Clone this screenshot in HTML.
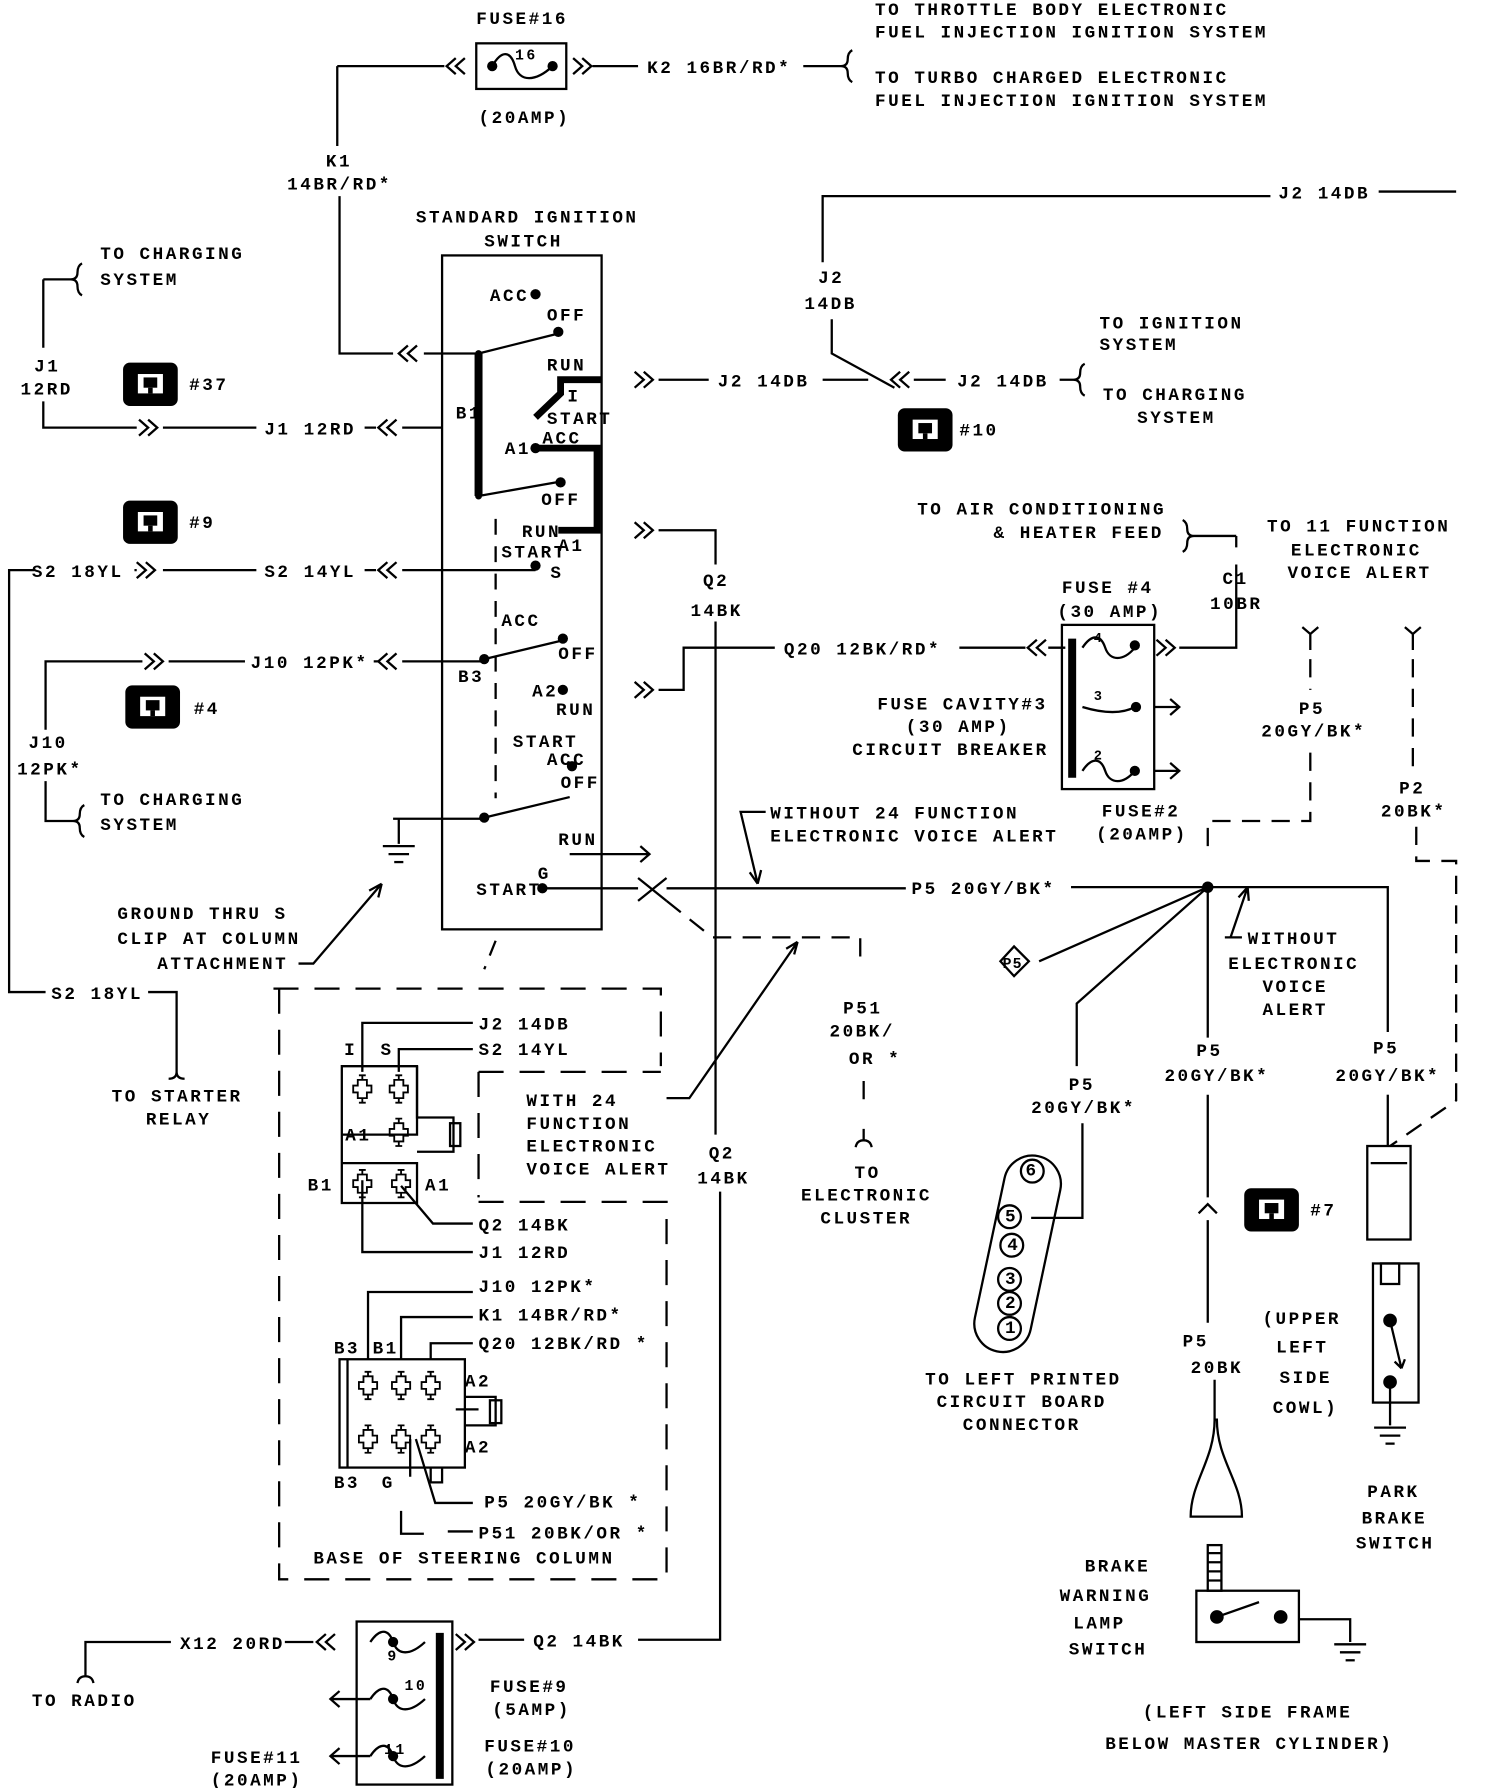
<!DOCTYPE html>
<html><head><meta charset="utf-8"><style>
html,body{margin:0;padding:0;background:#fff;}
svg{display:block}
text{font-family:"Liberation Mono","DejaVu Sans Mono",monospace;font-size:15.5px;font-weight:bold;letter-spacing:2.2px;fill:#000}
</style></head><body>
<svg width="1504" height="1788" viewBox="0 0 1320 1568" preserveAspectRatio="none" xmlns="http://www.w3.org/2000/svg">
<defs>
<path id="rr" d="M0,-7 L8,0 L0,7 M8,-7 L16,0 L8,7" fill="none" stroke="#000" stroke-width="2"/>
<path id="ll" d="M16,-7 L8,0 L16,7 M8,-7 L0,0 L8,7" fill="none" stroke="#000" stroke-width="2"/>
<path id="pin" d="M-3,-12 h6 M0,-12 v4 M-4,-8 h8 v5 h4 v6 h-4 v5 h-8 v-5 h-4 v-6 h4 z M0,8 v4 M-3,12 h6" fill="none" stroke="#000" stroke-width="1.6"/>
<g id="icon"><rect x="0" y="0" width="48" height="38" rx="6" fill="#000"/><rect x="13" y="10" width="22" height="17" fill="#fff"/><rect x="18" y="13" width="12" height="9" fill="#000"/><rect x="22" y="22" width="4" height="5" fill="#000"/></g>
<g id="gnd" stroke="#000" stroke-width="2"><line x1="-14" y1="0" x2="14" y2="0"/><line x1="-9" y1="7" x2="9" y2="7"/><line x1="-4" y1="14" x2="4" y2="14"/></g>
</defs>
<g fill="none" stroke="#000" stroke-width="2">
<rect x="418" y="38" width="79" height="40"/>
<path d="M432,58 C440,44 448,44 452,58 C456,72 470,72 485,58"/>
<path d="M296,58 H390 M296,58 V128 M298,172 V310 H345 M372,310 H420"/>
<path d="M520,58 H560 M705,58 H738 M738,58 q6,0 6,-6 q0,-6 4,-8 M738,58 q6,0 6,6 q0,6 4,8"/>
<rect x="388" y="224" width="140" height="591"/>
<line x1="420" y1="310" x2="420" y2="435" stroke-width="7"/>
<path d="M420,310 L488,293 M420,435 L488,423 M425,578 L492,562 M425,717 L500,699"/>
<path d="M528,333 H492 V345 L470,366" stroke-width="6"/>
<path d="M470,393 H524 V465 H490" stroke-width="6"/>
<path d="M435,455 V700" stroke-dasharray="14,10"/>
<path d="M38,245 H62 M62,245 q6,0 6,-6 q0,-6 4,-8 M62,245 q6,0 6,6 q0,6 4,8 M38,245 V305 M38,352 V375 H120 M143,375 H225 M320,375 H330 M353,375 H388"/>
<path d="M30,500 H8 V870 H40 M120,500 H118 M143,500 H225 M320,500 H330 M353,500 H470"/>
<path d="M40,640 V580 H125 M148,580 H215 M332,580 H328 M353,580 H425"/>
<path d="M40,685 V720 H64 M64,720 q6,0 6,-6 q0,-6 4,-8 M64,720 q6,0 6,6 q0,6 4,8"/>
<path d="M345,718 H425 M350,718 V740"/>
<path d="M262,845 H275 L335,775 M335,775 l-3,12 M335,775 l-11,6"/>
<path d="M130,870 H155 V940 M155,940 q0,6 -7,6 M155,940 q0,6 7,6"/>
<path d="M500,749 H570 M562,742 L570,749 L562,756"/>
<path d="M578,333 H622 M722,333 H762 M730,280 V310 L785,340 M802,333 H830 M930,333 H942 M942,333 q6,0 6,-6 q0,-6 4,-8 M942,333 q6,0 6,6 q0,6 4,8"/>
<path d="M722,230 V172 H1115 M1210,168 H1278"/>
<path d="M578,465 H628 V495 M628,545 V995 M632,1045 V1438 H560 M460,1438 H420"/>
<path d="M578,605 H600 V568 H680 M842,568 H900 M920,568 H935"/>
<rect x="932" y="548" width="81" height="144"/>
<line x1="941" y1="560" x2="941" y2="682" stroke-width="7"/>
<path d="M950,568 C958,556 966,556 970,568 C974,580 986,580 996,568"/>
<path d="M950,620 C970,626 985,626 996,620"/>
<path d="M950,676 C958,664 966,664 970,676 C974,688 986,688 996,676"/>
<path d="M1035,568 H1085 V495 M1085,470 V480 M1085,470 H1048 M1048,470 q-6,0 -6,-6 q0,-6 -4,-8 M1048,470 q-6,0 -6,6 q0,6 -4,8"/>
<path d="M1013,620 H1035 M1027,613 L1035,620 L1027,627 M1013,676 H1035 M1027,669 L1035,676 L1027,683"/>
<path d="M1150,570 V555 M1143,550 L1150,556 L1157,550 M1240,570 V555 M1233,550 L1240,556 L1247,550"/>
<path d="M1150,578 V605 M1150,660 V720 H1060 V742 M1240,578 V680 M1243,725 V755 H1278 V965 L1220,1005" stroke-dasharray="16,10"/>
<path d="M672,712 H650 L665,775 M665,775 l-7,-10 M665,775 l3,-12"/>
<path d="M476,779 H560 M560,770 L585,790 M560,790 L585,770 M585,779 H795 M940,778 H1218 V905"/>
<path d="M585,790 L625,822 H755 V840 M758,948 V968" stroke-dasharray="16,10"/>
<path d="M758,990 V1000 M758,1000 q-6,0 -7,6 M758,1000 q6,0 7,6"/>
<path d="M585,963 H605 L700,826 M700,826 l-3,11 M700,826 l-10,6"/>
<path d="M878,843 L890,830 L903,843 L890,856 Z"/>
<path d="M912,843 L1060,778 M1060,778 L945,880 V935 M950,985 V1068 H905 M1060,778 V910 M1060,960 V1050 M1060,1070 V1160 M1066,1210 V1245"/>
<path d="M1052,1064 L1060,1056 L1068,1064"/>
<path d="M1218,960 V1005"/>
<path d="M1080,822 L1095,778 M1095,778 l-8,9 M1095,778 l1,12"/>
<path d="M1075,822 H1090"/>
<rect x="868" y="1012" width="50" height="175" rx="25" transform="rotate(12 893 1100)"/>
<circle cx="906" cy="1027" r="10"/><circle cx="886" cy="1067" r="10"/><circle cx="888" cy="1092" r="10"/><circle cx="886" cy="1122" r="10"/><circle cx="886" cy="1143" r="10"/><circle cx="886" cy="1165" r="10"/>
<rect x="1200" y="1005" width="38" height="82"/><line x1="1203" y1="1020" x2="1235" y2="1020"/>
<rect x="1205" y="1108" width="40" height="122"/><rect x="1212" y="1108" width="16" height="18"/>
<circle cx="1220" cy="1158" r="5" fill="#000"/><circle cx="1220" cy="1212" r="5" fill="#000"/>
<path d="M1220,1158 L1230,1200 M1230,1200 l-6,-6 M1230,1200 l3,-8 M1220,1212 V1250"/>
<path d="M1066,1245 C1066,1280 1045,1300 1045,1330 H1090 C1090,1300 1068,1280 1068,1245 Z"/>
<rect x="1060" y="1355" width="12" height="40"/>
<path d="M1060,1362 h12 M1060,1370 h12 M1060,1378 h12 M1060,1386 h12"/>
<rect x="1050" y="1395" width="90" height="45"/>
<circle cx="1068" cy="1418" r="5" fill="#000"/><circle cx="1124" cy="1418" r="5" fill="#000"/>
<path d="M1068,1418 L1105,1405 M1140,1420 H1185 V1440"/>
<path d="M240,867 H580 V935 M420,1054 H585 V1385 H245 V867 M420,940 V1050" stroke-dasharray="22,14"/>
<path d="M420,940 H580" stroke-dasharray="22,14"/>
<path d="M435,825 L425,850" stroke-dasharray="14,10"/>
<path d="M300,935 H366 V995 H300 V1020 H366 V1055 H300 Z"/>
<path d="M366,935 V980 H398 V1010 H366"/>
<rect x="395" y="985" width="9" height="20"/>
<path d="M318,940 V897 H415 M350,940 V920 H415 M318,1035 V1098 H415 M352,1040 L380,1073 H415"/>
<rect x="298" y="1192" width="110" height="95"/>
<line x1="305" y1="1192" x2="305" y2="1287"/>
<path d="M408,1225 H435 V1250 H408 M400,1236 H420 M378,1287 V1300 H388 V1287"/>
<rect x="430" y="1228" width="10" height="20"/>
<path d="M323,1192 V1133 H415 M352,1192 V1155 H415 M378,1192 V1178 H415 M360,1262 V1295 M365,1262 L382,1318 H415 M352,1325 V1345 H372 M393,1343 H415"/>
<rect x="313" y="1422" width="84" height="143"/>
<line x1="386" y1="1432" x2="386" y2="1560" stroke-width="7"/>
<path d="M325,1440 C333,1428 341,1428 345,1440 C349,1452 360,1452 373,1440"/>
<path d="M325,1490 C333,1478 341,1478 345,1490 C349,1502 360,1502 373,1490"/>
<path d="M325,1540 C333,1528 341,1528 345,1540 C349,1552 360,1552 373,1540"/>
<path d="M250,1440 H275 M150,1440 H75 V1470 M75,1470 q-6,0 -7,6 M75,1470 q6,0 7,6"/>
<path d="M290,1490 H325 M298,1483 L290,1490 L298,1497 M290,1540 H325 M298,1533 L290,1540 L298,1547"/>
</g>
<g fill="#000">
<circle cx="432" cy="58" r="4.5"/><circle cx="485" cy="58" r="4.5"/>
<circle cx="470" cy="258" r="4.5"/><circle cx="490" cy="291" r="4.5"/><circle cx="470" cy="393" r="4.5"/><circle cx="492" cy="423" r="4.5"/>
<circle cx="470" cy="496" r="4.5"/><circle cx="494" cy="560" r="4.5"/><circle cx="425" cy="578" r="4.5"/><circle cx="494" cy="605" r="4.5"/>
<circle cx="502" cy="672" r="4.5"/><circle cx="425" cy="717" r="4.5"/><circle cx="476" cy="779" r="4.5"/><circle cx="420" cy="310" r="3"/><circle cx="420" cy="435" r="3"/>
<circle cx="996" cy="566" r="4.5"/><circle cx="997" cy="620" r="4.5"/><circle cx="996" cy="676" r="4.5"/><circle cx="1060" cy="778" r="5"/>
<circle cx="345" cy="1440" r="4.5"/><circle cx="345" cy="1490" r="4.5"/><circle cx="345" cy="1540" r="4.5"/>
</g>
<use href="#ll" x="392" y="58"/><use href="#rr" x="503" y="58"/>
<use href="#ll" x="350" y="310"/><use href="#rr" x="122" y="375"/><use href="#ll" x="332" y="375"/>
<use href="#rr" x="120" y="500"/><use href="#ll" x="332" y="500"/><use href="#rr" x="127" y="580"/><use href="#ll" x="332" y="580"/>
<use href="#rr" x="557" y="333"/><use href="#ll" x="782" y="333"/><use href="#rr" x="557" y="465"/><use href="#rr" x="557" y="605"/>
<use href="#ll" x="902" y="568"/><use href="#rr" x="1015" y="568"/>
<use href="#ll" x="278" y="1440"/><use href="#rr" x="400" y="1440"/>
<use href="#gnd" x="350" y="742"/><use href="#gnd" x="1220" y="1252"/><use href="#gnd" x="1185" y="1442"/>
<use href="#icon" x="108" y="318"/><use href="#icon" x="108" y="439"/><use href="#icon" x="110" y="601"/><use href="#icon" x="788" y="358"/><use href="#icon" x="1092" y="1042"/>
<use href="#pin" x="318" y="955"/><use href="#pin" x="350" y="955"/><use href="#pin" x="350" y="993"/><use href="#pin" x="318" y="1038"/><use href="#pin" x="352" y="1038"/>
<use href="#pin" x="323" y="1215"/><use href="#pin" x="352" y="1215"/><use href="#pin" x="378" y="1215"/><use href="#pin" x="323" y="1262"/><use href="#pin" x="352" y="1262"/><use href="#pin" x="378" y="1262"/>
<g>
<text x="418" y="21">FUSE#16</text><text x="452" y="52" style="font-size:13px">16</text><text x="420" y="108">(20AMP)</text>
<text x="568" y="64">K2 16BR/RD*</text>
<text x="768" y="13">TO THROTTLE BODY ELECTRONIC</text><text x="768" y="33">FUEL INJECTION IGNITION SYSTEM</text>
<text x="768" y="73">TO TURBO CHARGED ELECTRONIC</text><text x="768" y="93">FUEL INJECTION IGNITION SYSTEM</text>
<text x="286" y="146">K1</text><text x="252" y="166">14BR/RD*</text>
<text x="365" y="195">STANDARD IGNITION</text><text x="425" y="216">SWITCH</text>
<text x="88" y="227">TO CHARGING</text><text x="88" y="250">SYSTEM</text>
<text x="30" y="326">J1</text><text x="18" y="346">12RD</text><text x="166" y="342">#37</text>
<text x="232" y="381">J1 12RD</text><text x="166" y="463">#9</text>
<text x="28" y="506">S2 18YL</text><text x="232" y="506">S2 14YL</text>
<text x="220" y="586">J10 12PK*</text><text x="170" y="626">#4</text>
<text x="25" y="656">J10</text><text x="15" y="679">12PK*</text>
<text x="88" y="706">TO CHARGING</text><text x="88" y="728">SYSTEM</text>
<text x="103" y="806">GROUND THRU S</text><text x="103" y="828">CLIP AT COLUMN</text><text x="138" y="850">ATTACHMENT</text>
<text x="45" y="876">S2 18YL</text><text x="98" y="966">TO STARTER</text><text x="128" y="986">RELAY</text>
<g style="font-size:12px;letter-spacing:1px">
<text x="430" y="264">ACC</text><text x="480" y="281">OFF</text><text x="480" y="325">RUN</text><text x="498" y="352">I</text><text x="480" y="372">START</text><text x="476" y="389">ACC</text><text x="443" y="398">A1</text><text x="400" y="367">B1</text>
<text x="475" y="443">OFF</text><text x="458" y="471">RUN</text><text x="490" y="483">A1</text><text x="440" y="489">START</text><text x="483" y="507">S</text>
<text x="440" y="549">ACC</text><text x="490" y="578">OFF</text><text x="402" y="598">B3</text><text x="467" y="611">A2</text><text x="488" y="627">RUN</text>
<text x="450" y="655">START</text><text x="480" y="671">ACC</text><text x="492" y="691">OFF</text><text x="490" y="741">RUN</text><text x="472" y="771">G</text><text x="418" y="785">START</text>
</g>
<text x="718" y="248">J2</text><text x="706" y="271">14DB</text><text x="1122" y="174">J2 14DB</text>
<text x="630" y="339">J2 14DB</text><text x="840" y="339">J2 14DB</text>
<text x="965" y="288">TO IGNITION</text><text x="965" y="307">SYSTEM</text><text x="968" y="351">TO CHARGING</text><text x="998" y="371">SYSTEM</text>
<text x="842" y="382">#10</text>
<text x="805" y="451">TO AIR CONDITIONING</text><text x="872" y="472">&amp; HEATER FEED</text>
<text x="1112" y="466">TO 11 FUNCTION</text><text x="1133" y="487">ELECTRONIC</text><text x="1130" y="507">VOICE ALERT</text>
<text x="1073" y="512">C1</text><text x="1062" y="534">10BR</text>
<text x="932" y="520">FUSE #4</text><text x="928" y="541">(30 AMP)</text>
<text x="617" y="514">Q2</text><text x="606" y="540">14BK</text>
<text x="688" y="574">Q20 12BK/RD*</text>
<text x="960" y="563" style="font-size:12px">4</text><text x="960" y="614" style="font-size:12px">3</text><text x="960" y="666" style="font-size:12px">2</text>
<text x="770" y="622">FUSE CAVITY#3</text><text x="795" y="642">(30 AMP)</text><text x="748" y="662">CIRCUIT BREAKER</text>
<text x="967" y="716">FUSE#2</text><text x="962" y="736">(20AMP)</text>
<text x="1140" y="626">P5</text><text x="1107" y="646">20GY/BK*</text><text x="1228" y="696">P2</text><text x="1212" y="716">20BK*</text>
<text x="676" y="718">WITHOUT 24 FUNCTION</text><text x="676" y="738">ELECTRONIC VOICE ALERT</text>
<text x="800" y="784">P5 20GY/BK*</text>
<text x="880" y="849" style="font-size:13px;letter-spacing:1px">P5</text>
<text x="1095" y="828">WITHOUT</text><text x="1078" y="850">ELECTRONIC</text><text x="1108" y="870">VOICE</text><text x="1108" y="890">ALERT</text>
<text x="740" y="889">P51</text><text x="728" y="909">20BK/</text><text x="745" y="933">OR *</text>
<text x="750" y="1033">TO</text><text x="703" y="1053">ELECTRONIC</text><text x="720" y="1073">CLUSTER</text>
<text x="462" y="970">WITH 24</text><text x="462" y="990">FUNCTION</text><text x="462" y="1010">ELECTRONIC</text><text x="462" y="1030">VOICE ALERT</text>
<text x="622" y="1016">Q2</text><text x="612" y="1038">14BK</text>
<text x="1050" y="926">P5</text><text x="1022" y="948">20GY/BK*</text><text x="938" y="956">P5</text><text x="905" y="976">20GY/BK*</text>
<text x="1205" y="924">P5</text><text x="1172" y="948">20GY/BK*</text>
<text x="1150" y="1066">#7</text>
<text x="1038" y="1181">P5</text><text x="1045" y="1204">20BK</text>
<text x="1108" y="1161">(UPPER</text><text x="1120" y="1186">LEFT</text><text x="1123" y="1213">SIDE</text><text x="1117" y="1239">COWL)</text>
<text x="812" y="1214">TO LEFT PRINTED</text><text x="822" y="1234">CIRCUIT BOARD</text><text x="845" y="1254">CONNECTOR</text>
<text x="1200" y="1313">PARK</text><text x="1195" y="1336">BRAKE</text><text x="1190" y="1358">SWITCH</text>
<text x="952" y="1378">BRAKE</text><text x="930" y="1404">WARNING</text><text x="942" y="1428">LAMP</text><text x="938" y="1451">SWITCH</text>
<text x="1003" y="1506">(LEFT SIDE FRAME</text><text x="970" y="1534">BELOW MASTER CYLINDER)</text>
<g style="font-size:11px;letter-spacing:0px">
<text x="900" y="1031">6</text><text x="882" y="1071">5</text><text x="884" y="1096">4</text><text x="882" y="1126">3</text><text x="882" y="1147">2</text><text x="882" y="1169">1</text>
</g>
<text x="420" y="903">J2 14DB</text><text x="420" y="925">S2 14YL</text>
<text x="302" y="925">I</text><text x="334" y="925">S</text><text x="303" y="1000">A1</text><text x="270" y="1044">B1</text><text x="373" y="1044">A1</text>
<text x="420" y="1079">Q2 14BK</text><text x="420" y="1103">J1 12RD</text>
<text x="420" y="1133">J10 12PK*</text><text x="420" y="1158">K1 14BR/RD*</text><text x="420" y="1183">Q20 12BK/RD *</text>
<text x="293" y="1187">B3</text><text x="327" y="1187">B1</text><text x="408" y="1216">A2</text><text x="408" y="1274">A2</text>
<text x="293" y="1305">B3</text><text x="335" y="1305">G</text>
<text x="425" y="1322">P5 20GY/BK *</text><text x="420" y="1349">P51 20BK/OR *</text>
<text x="275" y="1371">BASE OF STEERING COLUMN</text>
<text x="158" y="1446">X12 20RD</text><text x="468" y="1444">Q2 14BK</text><text x="28" y="1496">TO RADIO</text>
<text x="340" y="1456" style="font-size:13px">9</text><text x="355" y="1482" style="font-size:13px">10</text><text x="337" y="1538" style="font-size:13px">11</text>
<text x="430" y="1484">FUSE#9</text><text x="432" y="1504">(5AMP)</text><text x="425" y="1536">FUSE#10</text><text x="426" y="1556">(20AMP)</text>
<text x="185" y="1546">FUSE#11</text><text x="185" y="1566">(20AMP)</text>
</g>
</svg>
</body></html>
